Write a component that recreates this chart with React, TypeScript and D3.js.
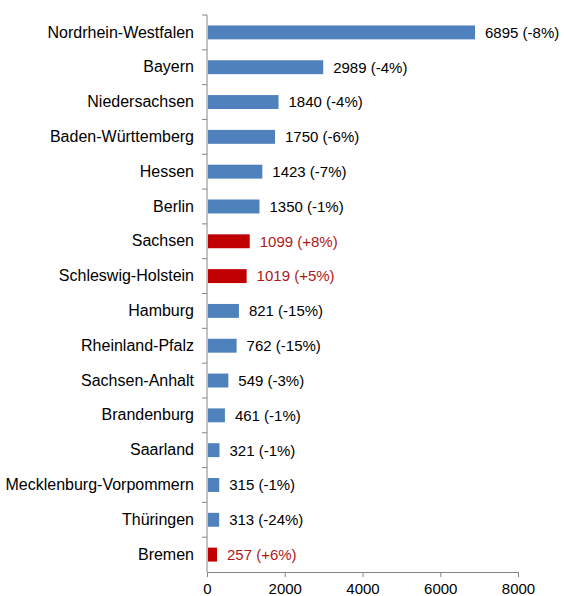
import React, { useRef, useEffect } from 'react';
import { select, scaleLinear, scaleBand, axisBottom, axisLeft } from 'd3';

const states = [
  'Nordrhein-Westfalen', 'Bayern', 'Niedersachsen', 'Baden-Württemberg', 'Hessen', 'Berlin',
  'Sachsen', 'Schleswig-Holstein', 'Hamburg', 'Rheinland-Pfalz', 'Sachsen-Anhalt', 'Brandenburg',
  'Saarland', 'Mecklenburg-Vorpommern', 'Thüringen', 'Bremen',
];
const counts = [6895, 2989, 1840, 1750, 1423, 1350, 1099, 1019, 821, 762, 549, 461, 321, 315, 313, 257];
const changes = [-8, -4, -4, -6, -7, -1, 8, 5, -15, -15, -3, -1, -1, -1, -24, 6];
const xTicks = [0, 2000, 4000, 6000, 8000];

const BLUE = '#4f81bd';
const RED = '#c00000';
const RED_TEXT = '#b01818';

const App: React.FC = () => {
  const svgRef = useRef<SVGSVGElement | null>(null);

  useEffect(() => {
    if (!svgRef.current) return;
    const svg = select(svgRef.current);
    svg.selectAll('*').remove();

    const width = 564;
    const height = 596;
    const margin = { top: 15, right: 46, bottom: 24, left: 207 };
    const innerWidth = width - margin.left - margin.right;
    const innerHeight = height - margin.top - margin.bottom;

    const g = svg.append('g').attr('transform', `translate(${margin.left}, ${margin.top})`);

    const x = scaleLinear().domain([0, 8000]).range([0, innerWidth]);
    const y = scaleBand<string>().domain(states).range([0, innerHeight]).paddingInner(0.6).paddingOuter(0.3);

    const font = '"Liberation Sans", Arial, sans-serif';

    // category labels; ticks sit between categories, so those are drawn on band edges
    const yAxis = g.append('g').call(axisLeft(y).tickSize(0).tickPadding(13));
    yAxis.select('.domain').remove();
    yAxis.selectAll('text').attr('font-family', font).attr('font-size', 16).attr('fill', '#000');

    const step = innerHeight / states.length;
    g.append('line').attr('x1', 0).attr('x2', 0).attr('y1', 0).attr('y2', innerHeight).attr('stroke', '#868686');
    g.selectAll('.ytick')
      .data(states.map((_, i) => i))
      .enter()
      .append('line')
      .attr('x1', -5)
      .attr('x2', 0)
      .attr('y1', d => d * step)
      .attr('y2', d => d * step)
      .attr('stroke', '#868686');

    const xAxis = g.append('g').attr('transform', `translate(0, ${innerHeight})`)
      .call(axisBottom(x).tickValues(xTicks).tickFormat(d => String(d)).tickSize(5).tickSizeOuter(0).tickPadding(6));
    xAxis.select('.domain').attr('stroke', '#868686');
    xAxis.selectAll('line').attr('stroke', '#868686');
    xAxis.selectAll('text').attr('font-family', font).attr('font-size', 15).attr('fill', '#000');

    g.selectAll('rect.bar')
      .data(states)
      .enter()
      .append('rect')
      .attr('x', 1)
      .attr('y', d => y(d)!)
      .attr('width', (_, i) => x(counts[i]) - 1)
      .attr('height', y.bandwidth())
      .attr('fill', (_, i) => (changes[i] > 0 ? RED : BLUE));

    g.selectAll('text.val')
      .data(states)
      .enter()
      .append('text')
      .attr('x', (_, i) => x(counts[i]) + 10)
      .attr('y', d => y(d)! + y.bandwidth() / 2)
      .attr('dy', '0.36em')
      .attr('font-family', font)
      .attr('font-size', 15)
      .attr('fill', (_, i) => (changes[i] > 0 ? RED_TEXT : '#000'))
      .text((_, i) => `${counts[i]} (${changes[i] > 0 ? '+' : ''}${changes[i]}%)`);
  }, []);

  return (
    <svg
      ref={svgRef}
      width={564}
      height={596}
      style={{ position: 'absolute', top: 0, left: 0, background: '#fff' }}
    />
  );
};

export default App;
